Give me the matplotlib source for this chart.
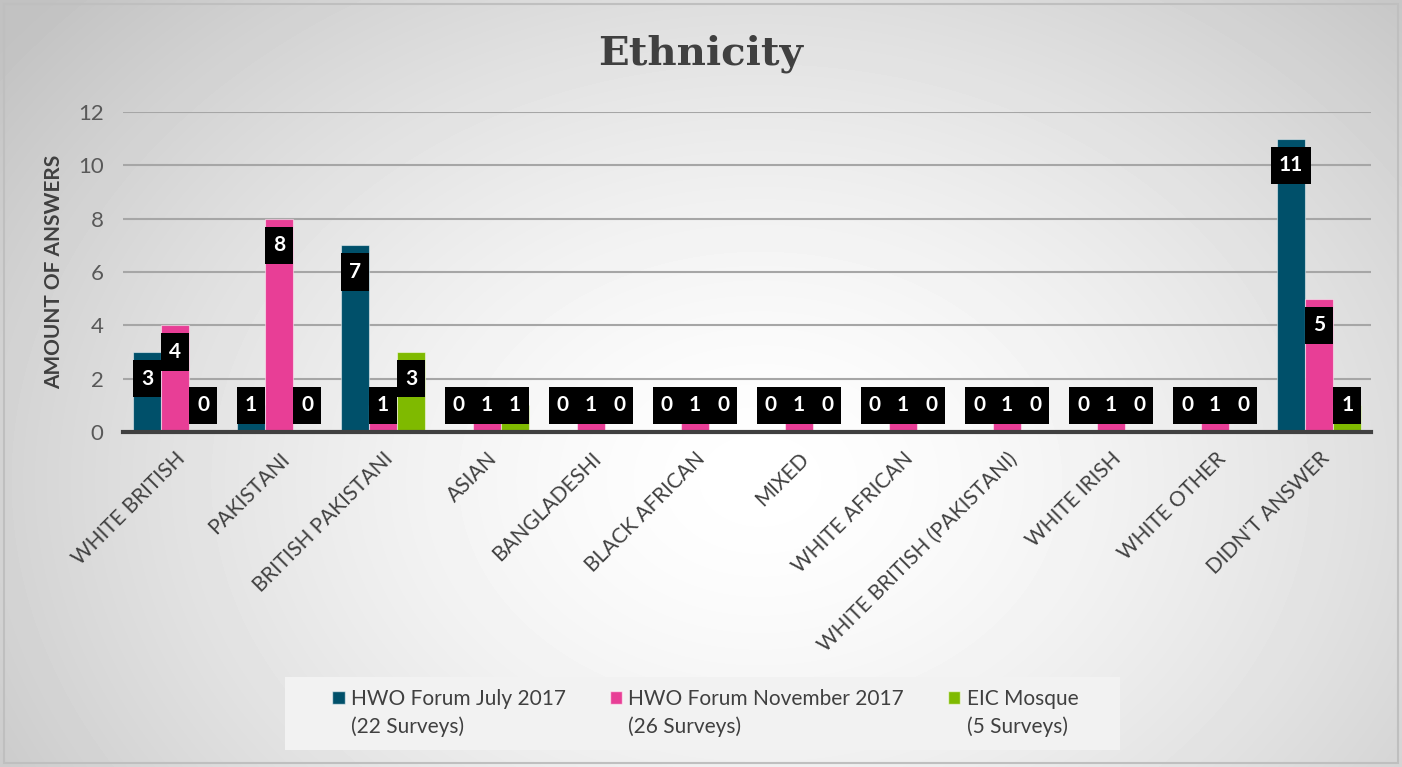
import numpy as np
import matplotlib
matplotlib.use("Agg")
import matplotlib.pyplot as plt
from matplotlib.patches import Patch, Rectangle
from matplotlib.legend_handler import HandlerPatch

categories = ["WHITE BRITISH", "PAKISTANI", "BRITISH PAKISTANI", "ASIAN", "BANGLADESHI",
              "BLACK AFRICAN", "MIXED", "WHITE AFRICAN", "WHITE BRITISH (PAKISTANI)",
              "WHITE IRISH", "WHITE OTHER", "DIDN'T ANSWER"]
july_2017 = [3, 1, 7, 0, 0, 0, 0, 0, 0, 0, 0, 11]
nov_2017 = [4, 8, 1, 1, 1, 1, 1, 1, 1, 1, 1, 5]
eic_mosque = [0, 0, 3, 1, 0, 0, 0, 0, 0, 0, 0, 1]
series_names = ["HWO Forum July 2017\n(22 Surveys)",
                "HWO Forum November 2017\n(26 Surveys)",
                "EIC Mosque\n(5 Surveys)"]
colors = ["#00506A", "#E83E96", "#7FBA00"]

plt.rcParams["font.family"] = ["Lato", "DejaVu Sans"]


class TopHandler(HandlerPatch):
    # put the legend square next to the first text line
    def _create_patch(self, legend, orig_handle, xdescent, ydescent, width, height, fontsize):
        return Rectangle((-xdescent, -ydescent + 0.75 * fontsize), width, height)


fig = plt.figure(figsize=(14.02, 7.67), dpi=100)

# radial background gradient
bg = fig.add_axes([0, 0, 1, 1], zorder=-10)
h, w = 767, 1402
yy, xx = np.mgrid[0:h, 0:w]
r = np.sqrt(((xx - 760) / 950.0) ** 2 + ((yy - 480) / 720.0) ** 2)
val = 1.0 - 0.24 * np.clip(r, 0, 1) ** 1.5
bg.imshow(val, cmap="gray", vmin=0, vmax=1, aspect="auto", extent=[0, 1, 0, 1])
bg.add_patch(Rectangle((0.003, 0.005), 0.994, 0.99, fill=False, edgecolor="#BFBFBF", lw=1.5))
# legend panel
bg.add_patch(Rectangle((285 / w, 1 - 750 / h), (1120 - 285) / w, 73 / h,
                       facecolor="#F2F2F2", edgecolor="none"))
bg.set_xlim(0, 1)
bg.set_ylim(0, 1)
bg.set_axis_off()

ax = fig.add_axes([0.0877, 0.4368, 0.8903, 0.4172])
ax.patch.set_alpha(0)

x = np.arange(len(categories))
width = 0.27
box_h = 1.4
all_vals = [july_2017, nov_2017, eic_mosque]
for i, (vals, col) in enumerate(zip(all_vals, colors)):
    pos = x + (i - 1) * width
    ax.bar(pos, vals, width, color=col, edgecolor=(1, 1, 1, 0.5), linewidth=0.8, zorder=3)
    for p, v in zip(pos, vals):
        yc = max(v - 1.0, 1.0)
        bw = max(width, 0.195 * len(str(v)))
        ax.add_patch(Rectangle((p - bw / 2, yc - box_h / 2), bw, box_h,
                               facecolor="black", edgecolor="none", zorder=5))
        ax.text(p, yc, str(v), ha="center", va="center", color="white",
                fontsize=15, fontweight="bold", zorder=6)

ax.set_ylim(0, 12)
ax.set_xlim(-0.5, len(categories) - 0.5)
ax.set_yticks(range(0, 13, 2))
ax.tick_params(axis="y", length=0, labelsize=16, labelcolor="#595959", pad=14)
ax.tick_params(axis="x", length=0, pad=12)
ax.set_xticks(x)
ax.set_xticklabels(categories, rotation=45, ha="right", rotation_mode="anchor",
                   fontsize=15, color="#404040")
ax.grid(axis="y", color="#A6A6A6", lw=1.5, zorder=0)
for s in ["top", "right", "left"]:
    ax.spines[s].set_visible(False)
ax.spines["bottom"].set_color("#404040")
ax.spines["bottom"].set_linewidth(3)
ax.spines["bottom"].set_zorder(4)
ax.set_ylabel("AMOUNT OF ANSWERS", fontsize=15, fontweight="bold", color="#404040", labelpad=10)

fig.text(0.5, 0.93, "Ethnicity", ha="center", va="center", fontsize=29,
         family="DejaVu Serif", fontweight="bold", color="#404040")

handles = [Patch(facecolor=c, edgecolor=(1, 1, 1, 0.6)) for c in colors]
leg = fig.legend(handles, series_names, loc="center", bbox_to_anchor=(0.503, 0.071),
                 ncol=3, fontsize=15, frameon=False, handlelength=0.6, handleheight=0.6,
                 handletextpad=0.3, columnspacing=2.1, borderpad=0.3,
                 handler_map={Patch: TopHandler()})
for t in leg.get_texts():
    t.set_color("#404040")
    t.set_linespacing(1.45)

fig.savefig("out.png", dpi=100)
